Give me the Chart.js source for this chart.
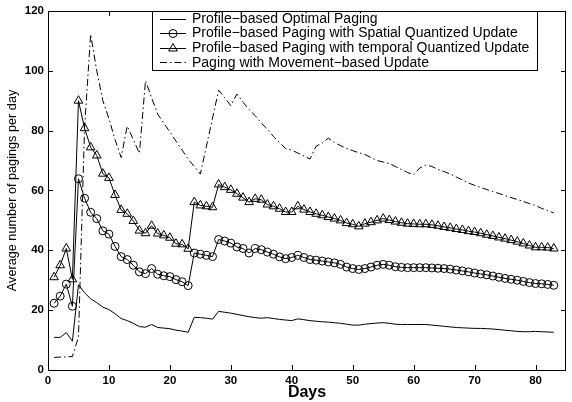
<!DOCTYPE html>
<html><head><meta charset="utf-8">
<script src="https://cdn.jsdelivr.net/npm/chart.js@4.4.0/dist/chart.umd.min.js"></script>
<style>html,body{margin:0;padding:0;background:#fff;}#wrap{width:572px;height:402px;}</style>
</head><body><div id="wrap"><canvas id="c" width="572" height="402"></canvas></div>
<script>
const days = [1,2,3,4,5,6,7,8,9,10,11,12,13,14,15,16,17,18,19,20,21,22,23,24,25,26,27,28,29,30,31,32,33,34,35,36,37,38,39,40,41,42,43,44,45,46,47,48,49,50,51,52,53,54,55,56,57,58,59,60,61,62,63,64,65,66,67,68,69,70,71,72,73,74,75,76,77,78,79,80,81,82,83];
const optimal = [10.9,10.9,12.5,9.6,28.5,25.8,23.8,22.5,21.0,20.2,18.8,17.2,16.5,15.6,14.5,14.3,15.2,14.2,14.0,13.8,13.3,13.0,12.6,17.6,17.5,17.3,17.0,19.6,19.3,19.0,18.6,18.2,17.8,17.5,17.3,17.5,17.2,16.9,16.7,16.5,17.1,16.8,16.5,16.3,16.1,16.0,15.8,15.6,15.3,15.0,15.0,15.3,15.5,15.7,15.8,15.6,15.3,15.2,15.2,15.2,15.2,15.2,15.0,14.8,14.6,14.4,14.2,14.1,14.0,13.9,13.9,13.8,13.7,13.5,13.3,13.1,12.9,12.8,12.8,12.9,12.8,12.7,12.6];
const spatial = [22.3,24.7,28.7,21.3,63.9,57.4,52.7,50.6,46.5,45.4,41.3,37.9,36.9,35.0,32.8,32.2,33.9,32.0,31.5,31.2,30.2,29.5,28.2,39.1,38.7,38.3,37.9,43.6,43.1,42.4,41.1,40.6,39.1,40.6,40.2,39.4,38.7,37.8,37.2,37.6,38.3,37.6,36.9,36.7,36.4,36.1,35.8,35.3,34.4,33.9,33.6,33.9,34.4,35.0,35.3,35.0,34.5,34.3,34.2,34.2,34.2,34.2,34.1,34.0,33.9,33.7,33.4,33.1,32.8,32.4,32.1,31.8,31.4,31.0,30.6,30.3,30.0,29.6,29.2,28.9,28.8,28.6,28.3];
const temporal = [31.0,35.0,40.6,30.3,90.0,80.8,74.4,71.7,65.6,64.2,58.5,53.5,52.2,49.8,46.6,45.7,48.2,45.6,45.0,44.2,42.2,42.0,40.5,56.1,55.0,54.7,54.4,62.0,61.1,60.2,58.9,57.6,56.1,57.2,56.9,55.3,54.7,53.9,52.8,52.8,54.7,53.6,52.8,52.2,51.7,51.1,50.6,50.0,49.1,48.7,48.0,48.9,49.4,50.0,50.6,50.1,49.6,49.2,48.9,48.8,48.7,48.7,48.5,48.2,47.8,47.5,47.1,46.8,46.4,46.1,45.7,45.2,44.8,44.3,43.9,43.4,42.9,42.3,41.6,41.0,41.0,40.9,40.6];
const movement = [4.2,4.3,4.4,4.5,11.0,81.0,112.2,100.0,90.0,84.0,77.0,71.0,81.5,77.0,72.4,96.7,91.0,85.5,82.5,79.5,76.5,73.5,70.5,68.0,65.5,74.8,84.2,93.5,91.0,88.3,92.2,89.5,87.0,85.0,82.5,80.5,78.0,76.0,74.0,73.5,72.5,71.5,70.5,74.8,75.8,77.5,76.0,75.0,74.0,73.3,72.6,72.0,71.0,70.0,69.5,69.0,68.0,67.0,66.0,65.3,67.5,68.5,68.0,67.0,66.3,65.5,64.5,63.5,62.5,61.7,61.0,60.3,59.6,59.0,58.3,57.6,57.0,56.3,55.6,55.0,54.0,53.3,52.5];
const xTicks = [0,10,20,30,40,50,60,70,80];
const yTicks = [0,20,40,60,80,100,120];
const seriesNames = [
  'Profile\u2212based Optimal Paging',
  'Profile\u2212based Paging with Spatial Quantized Update',
  'Profile\u2212based Paging with temporal Quantized Update',
  'Paging with Movement\u2212based Update'
];
const xTitle = 'Days';
const yTitle = 'Average number of pagings per day';

const FONT = "'Liberation Sans', Arial, Helvetica, sans-serif";
const DASHDOT = [7,3,1.5,3];

function pts(vals){ return days.map((d,i)=>({x:d,y:vals[i]})); }

const baseDs = {borderColor:'#000', borderWidth:1, tension:0, pointBorderColor:'#000', pointBackgroundColor:'rgba(0,0,0,0)', pointBorderWidth:1};
const datasets = [
  Object.assign({}, baseDs, {label:seriesNames[0], data:pts(optimal), pointRadius:0}),
  Object.assign({}, baseDs, {label:seriesNames[1], data:pts(spatial), pointRadius:4, pointStyle:'circle'}),
  Object.assign({}, baseDs, {label:seriesNames[2], data:pts(temporal), pointRadius:5, pointStyle:'triangle'}),
  Object.assign({}, baseDs, {label:seriesNames[3], data:pts(movement), pointRadius:0, borderDash:DASHDOT})
];

function drawMarker(ctx, style, x, y){
  ctx.beginPath();
  if(style==='circle'){ ctx.arc(x,y,4,0,Math.PI*2); }
  else if(style==='triangle'){
    const r=5;
    ctx.moveTo(x, y-r);
    ctx.lineTo(x+r*Math.sin(Math.PI*2/3), y-r*Math.cos(Math.PI*2/3));
    ctx.lineTo(x+r*Math.sin(Math.PI*4/3), y-r*Math.cos(Math.PI*4/3));
    ctx.closePath();
  }
  ctx.stroke();
}

const framePlugin = {
  id:'frameLegend',
  afterDatasetsDraw(chart){
    const ctx=chart.ctx, a=chart.chartArea, xs=chart.scales.x, ys=chart.scales.y;
    ctx.save();
    ctx.strokeStyle='#000'; ctx.lineWidth=1; ctx.setLineDash([]);
    ctx.beginPath();
    xs.ticks.forEach(t=>{
      const px=Math.round(xs.getPixelForValue(t.value))+0.5;
      ctx.moveTo(px,a.bottom); ctx.lineTo(px,a.bottom-5);
      ctx.moveTo(px,a.top); ctx.lineTo(px,a.top+5);
    });
    ys.ticks.forEach(t=>{
      const py=Math.round(ys.getPixelForValue(t.value))+0.5;
      ctx.moveTo(a.left,py); ctx.lineTo(a.left+5,py);
      ctx.moveTo(a.right,py); ctx.lineTo(a.right-5,py);
    });
    ctx.stroke();
    ctx.strokeRect(Math.round(a.left)+0.5, Math.round(a.top)+0.5, Math.round(a.right-a.left)-1, Math.round(a.bottom-a.top));
    // legend
    const lx=152, ly=Math.round(a.top), lw=385, lh=59;
    ctx.fillStyle='#fff'; ctx.fillRect(lx+0.5, ly+0.5, lw, lh);
    ctx.strokeRect(lx+0.5, ly+0.5, lw, lh);
    ctx.font='14px '+FONT; ctx.textBaseline='middle'; ctx.textAlign='left';
    chart.data.datasets.forEach((ds,i)=>{
      const cy = ly + 7.5 + i*14.6;
      ctx.strokeStyle='#000'; ctx.lineWidth=1;
      ctx.setLineDash(ds.borderDash||[]);
      ctx.beginPath(); ctx.moveTo(160, Math.round(cy)+0.5); ctx.lineTo(186, Math.round(cy)+0.5); ctx.stroke();
      ctx.setLineDash([]);
      if(ds.pointRadius>0) drawMarker(ctx, ds.pointStyle, 173, Math.round(cy)+0.5);
      ctx.fillStyle='#000';
      ctx.fillText(ds.label, 192, cy+0.5);
    });
    ctx.restore();
  }
};

new Chart(document.getElementById('c'), {
  type:'line',
  data:{datasets},
  options:{
    responsive:false, animation:false, devicePixelRatio:1,
    layout:{padding:{left:0,right:1,top:9,bottom:0}},
    plugins:{legend:{display:false}, tooltip:{enabled:false}},
    elements:{line:{borderJoinStyle:'miter'}},
    scales:{
      x:{type:'linear', min:0, max:85,
        afterFit(s){ s.height=32; },
        afterBuildTicks(s){ s.ticks = xTicks.map(v=>({value:v})); },
        grid:{display:false, drawTicks:false},
        border:{display:false},
        ticks:{padding:4, color:'#000', font:{family:FONT, size:11.5, weight:'bold'}, maxRotation:0},
        title:{display:true, text:xTitle, color:'#000', font:{family:FONT, size:16, weight:'bold'}, padding:{top:0,bottom:0}}
      },
      y:{type:'linear', min:0, max:120,
        afterFit(s){ s.width=48; },
        afterBuildTicks(s){ s.ticks = yTicks.map(v=>({value:v})); },
        grid:{display:false, drawTicks:false},
        border:{display:false},
        ticks:{padding:4, color:'#000', font:{family:FONT, size:11.5, weight:'bold'}},
        title:{display:true, text:yTitle, color:'#000', font:{family:FONT, size:12.7}, padding:{top:5,bottom:0}}
      }
    }
  },
  plugins:[framePlugin]
});
</script></body></html>
